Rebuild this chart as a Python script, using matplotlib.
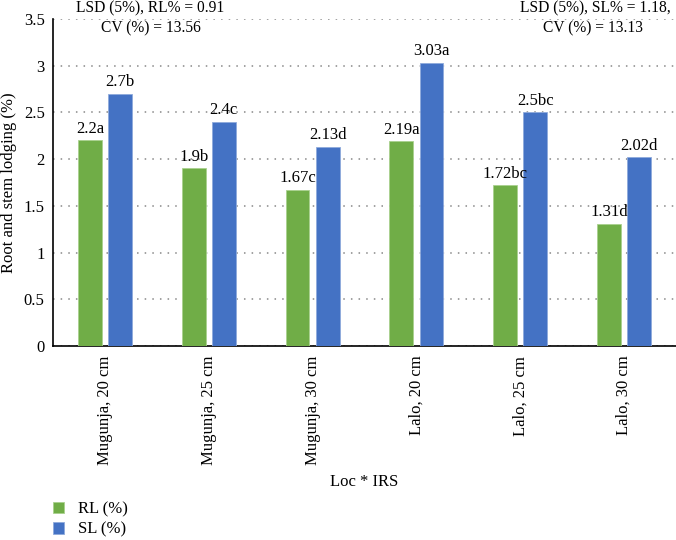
import numpy as np
import matplotlib
matplotlib.use("Agg")
import matplotlib.pyplot as plt

categories = ["Mugunja, 20 cm", "Mugunja, 25 cm", "Mugunja, 30 cm",
              "Lalo, 20 cm", "Lalo, 25 cm", "Lalo, 30 cm"]
rl = [2.2, 1.9, 1.67, 2.19, 1.72, 1.31]
sl = [2.7, 2.4, 2.13, 3.03, 2.5, 2.02]
rl_lab = ["2.2a", "1.9b", "1.67c", "2.19a", "1.72bc", "1.31d"]
sl_lab = ["2.7b", "2.4c", "2.13d", "3.03a", "2.5bc", "2.02d"]
yticks = [0, 0.5, 1, 1.5, 2, 2.5, 3, 3.5]
ytick_lab = ["0", "0.5", "1", "1.5", "2", "2.5", "3", "3.5"]

plt.rcParams['font.family'] = ['Liberation Serif', 'DejaVu Serif']
green = "#70AD47"
blue = "#4472C4"
fs = 12

fig = plt.figure(figsize=(6.76, 5.4), dpi=100)
ax = fig.add_axes([53/676, 1-346/540, 623/676, 327/540])

x = np.arange(len(categories))
w = 0.23
off = 0.145
b1 = ax.bar(x-off, rl, w, color=green, edgecolor="#a9d18e", linewidth=0.6, label="RL (%)", zorder=3)
b2 = ax.bar(x+off, sl, w, color=blue, edgecolor="#8faadc", linewidth=0.6, label="SL (%)", zorder=3)
for i in range(len(x)):
    ax.text(x[i]-off, rl[i]+0.04, rl_lab[i], ha="center", va="bottom", fontsize=fs)
    ax.text(x[i]+off, sl[i]+0.04, sl_lab[i], ha="center", va="bottom", fontsize=fs)

ax.set_xlim(-0.5, len(x)-0.5)
ax.set_ylim(0, 3.5)
ax.set_yticks(yticks)
ax.set_yticklabels(ytick_lab, fontsize=fs)
ax.set_xticks(x)
ax.set_xticklabels(categories, rotation=90, fontsize=fs)
ax.tick_params(length=0, pad=7)
ax.tick_params(axis="y", pad=6)
ax.yaxis.grid(True, linestyle=(0, (1, 4)), color="#888888", linewidth=1.1, zorder=0)
ax.spines["top"].set_visible(False)
ax.spines["right"].set_visible(False)
ax.spines["left"].set_linewidth(1.2)
ax.spines["bottom"].set_linewidth(1.2)
ax.set_ylabel("Root and stem lodging (%)", fontsize=fs, labelpad=5)
ax.set_xlabel("Loc * IRS", fontsize=fs, labelpad=6)

fs2 = 11.2
fig.text(150/676, 1-8/540, "LSD (5%), RL% = 0.91", ha="center", va="center", fontsize=fs2)
fig.text(151/676, 1-28/540, "CV (%) = 13.56", ha="center", va="center", fontsize=fs2)
fig.text(595/676, 1-8/540, "LSD (5%), SL% = 1.18,", ha="center", va="center", fontsize=fs2)
fig.text(593/676, 1-28/540, "CV (%) = 13.13", ha="center", va="center", fontsize=fs2)

fig.legend(handles=[b1, b2], loc="upper left", bbox_to_anchor=(46/676, 1-495/540),
           frameon=False, fontsize=fs, handlelength=0.65, handleheight=0.65,
           handletextpad=0.9, labelspacing=0.25, borderaxespad=0)

fig.savefig("out.png", dpi=100)
